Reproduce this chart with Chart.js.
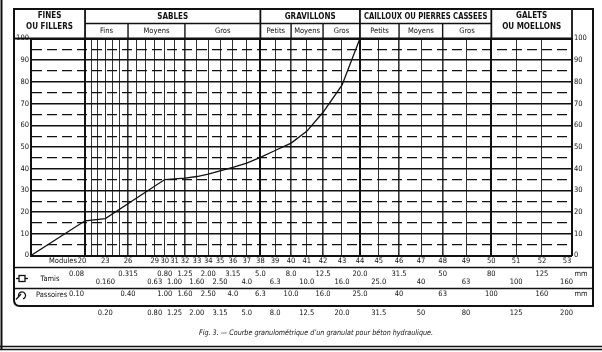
<!DOCTYPE html>
<html><head><meta charset="utf-8">
<script src="https://cdn.jsdelivr.net/npm/chart.js@4.4.0/dist/chart.umd.min.js"></script>
<style>html,body{margin:0;padding:0;background:#fff;overflow:hidden}#wrap{width:602px;height:352px;position:relative;background:#fff}</style>
</head><body><div id="wrap"><canvas id="c" width="602" height="352"></canvas></div>
<script>
// ---------- DATA ----------
const modules   = [20,21,22,23,24,25,26,27,28,29,30,31,32,33,34,35,36,37,38,39,40,41,42,43,44,45,46,47,48,49,50,51,52,53];
const sievesMM  = [0.08,0.1,0.125,0.16,0.2,0.25,0.315,0.4,0.5,0.63,0.8,1,1.25,1.6,2,2.5,3.15,4,5,6.3,8,10,12.5,16,20,25,31.5,40,50,63,80,100,125,160];
const moduleLabels = [20,23,26,29,30,31,32,33,34,35,36,37,38,39,40,41,42,43,44,45,46,47,48,49,50,51,52,53];
const tamisUpper    = ['0.08','0.315','0.80','1.25','2.00','3.15','5.0','8.0','12.5','20.0','31.5','50','80','125'];
const tamisUpperMod = [20,26,30,32,34,36,38,40,42,44,46,48,50,52];
const tamisLower    = ['0.160','0.63','1.00','1.60','2.50','4.0','6.3','10.0','16.0','25.0','40','63','100','160'];
const tamisLowerMod = [23,29,31,33,35,37,39,41,43,45,47,49,51,53];
const passTop       = ['0.10','0.40','1.00','1.60','2.50','4.0','6.3','10.0','16.0','25.0','40','63','100','160'];
const passBottom    = ['0.20','0.80','1.25','2.00','3.15','5.0','8.0','12.5','20.0','31.5','50','80','125','200'];
const groupNames  = [['FINES','OU FILLERS'],['SABLES'],['GRAVILLONS'],['CAILLOUX OU PIERRES CASSEES'],['GALETS','OU MOELLONS']];
const groupLimitsMM = [0.0064,0.08,5,20,80,160];
const subNames    = ['Fins','Moyens','Gros','Petits','Moyens','Gros','Petits','Moyens','Gros'];
const subLimitsMM = [0.08,0.315,1.25,5,8,12.5,20,31.5,50,80];
const curveMM  = [0.0064,0.08,0.16,0.8,1.25,1.6,2,2.5,3.15,4,5,6.3,8,10,12.5,16,20];
const curvePct = [0,16,17,35,35.7,36.4,37.5,39,40.6,42.6,45.2,48.4,51.8,57.2,66,78.5,100];
const yMin = 0, yMax = 100, yStep = 5;
const caption = 'Fig. 3. \u2014 Courbe granulom\u00e9trique d\u2019un granulat pour b\u00e9ton hydraulique.';

// ---------- Faury scale (x proportional to d^(1/5)) ----------
class FauryScale extends Chart.LinearScale {
  configure() {
    super.configure();
    this._t0 = Math.pow(this.min, 0.2);
    this._t1 = Math.pow(this.max, 0.2);
  }
  getPixelForValue(v) {
    if (v === null || v === undefined || isNaN(v)) return NaN;
    return this.getPixelForDecimal((Math.pow(v, 0.2) - this._t0) / (this._t1 - this._t0));
  }
  getValueForPixel(p) {
    const d = this.getDecimalForPixel(p);
    return Math.pow(this._t0 + d * (this._t1 - this._t0), 5);
  }
}
FauryScale.id = 'faury';
FauryScale.defaults = Chart.LinearScale.defaults;
Chart.register(FauryScale);

const FF = "'DejaVu Sans Condensed','Liberation Sans Narrow','Liberation Sans',sans-serif";
const majorB = [0.08,5,20,80,160];
const minorB = [0.315,1.25,8,12.5,31.5,50];
const modMM = m => sievesMM[modules.indexOf(m)];

const tablePlugin = {
  id: 'table',
  beforeDraw(chart) {
    const c = chart.ctx; c.save(); c.fillStyle = '#fff'; c.fillRect(0,0,chart.width,chart.height); c.restore();
  },
  afterDraw(chart) {
    const ctx = chart.ctx, xs = chart.scales.x, ca = chart.chartArea;
    const X = v => xs.getPixelForValue(v);
    const L = 14, R = 593, TOP = 9, SUB = 23.5, HB = ca.top;
    const ROW1 = 267.5, ROW2 = 288.5, BOT = 306;
    ctx.save();
    ctx.strokeStyle = '#111'; ctx.fillStyle = '#111';
    const line = (x1,y1,x2,y2,w) => { ctx.beginPath(); ctx.lineWidth = w; ctx.moveTo(x1,y1); ctx.lineTo(x2,y2); ctx.stroke(); };
    const txt = (s,x,y,o={}) => {
      ctx.font = (o.italic?'italic ':'') + (o.bold?'bold ':'') + (o.size||8) + 'px ' + FF;
      ctx.textAlign = o.align || 'center'; ctx.textBaseline = 'middle';
      if (o.maxW) ctx.fillText(s,x,y,o.maxW); else ctx.fillText(s,x,y);
    };
    // outer scan frame
    line(1.5,0,1.5,350,2);
    line(0,346.5,602,346.5,1.5); line(0,349.5,602,349.5,1.5);
    // table frame
    line(L-1,TOP,R+1,TOP,2);
    ctx.beginPath(); ctx.lineWidth = 2;
    ctx.moveTo(L,TOP); ctx.lineTo(L,BOT-6); ctx.quadraticCurveTo(L,BOT,L+6,BOT); ctx.lineTo(R,BOT); ctx.lineTo(R,TOP); ctx.stroke();
    line(L,HB,ca.right,HB,2);
    // header separators
    for (let i=1;i<groupLimitsMM.length;i++) line(X(groupLimitsMM[i]),TOP,X(groupLimitsMM[i]),HB,1.8);
    line(X(0.08),SUB,X(80),SUB,1.4);
    for (let i=1;i<subLimitsMM.length-1;i++) if (!majorB.includes(subLimitsMM[i])) line(X(subLimitsMM[i]),SUB,X(subLimitsMM[i]),HB,1.4);
    // header texts
    for (let i=0;i<groupNames.length;i++) {
      const x1 = i===0 ? L : X(groupLimitsMM[i]), x2 = X(groupLimitsMM[i+1]);
      const cx = (x1+x2)/2, g = groupNames[i];
      if (g.length===2) { txt(g[0],cx,16,{bold:true,size:8}); txt(g[1],cx,27,{bold:true,size:8}); }
      else txt(g[0],cx,17,{bold:true,size:8,maxW:x2-x1-8});
    }
    for (let i=0;i<subNames.length;i++) txt(subNames[i],(X(subLimitsMM[i])+X(subLimitsMM[i+1]))/2,31,{size:7.5});
    // bottom table rows
    line(L,ROW1,R,ROW1,1.5); line(L,ROW2,R,ROW2,1.5);
    txt('Modules',77,261.5,{size:7.5,align:'right',maxW:29});
    moduleLabels.forEach(m => {
      let x = X(modMM(m)); if (m===20) x -= 3; if (m===53) x -= 5;
      txt(String(m),x,261.5,{size:7.5});
    });
    const row = (labels,mods,y) => labels.forEach((s,i) => {
      const x = X(modMM(mods[i]));
      if (mods[i]===20) txt(s,x-1,y,{size:7.5,align:'right'});
      else if (mods[i]===53) txt(s,x+1,y,{size:7.5,align:'right'});
      else txt(s,x,y,{size:7.5});
    });
    row(tamisUpper,tamisUpperMod,274.5);
    row(tamisLower,tamisLowerMod,282.5);
    row(passTop,tamisUpperMod,294);
    row(passBottom,tamisLowerMod,313);
    txt('mm',581,274.5,{size:7.5}); txt('mm',581,294,{size:7.5});
    txt('Tamis',50,279,{size:7.5});
    txt('Passoires',36,295.5,{size:7.5,align:'left',maxW:32});
    // symbols
    line(16,278.5,28,278.5,1.3);
    ctx.fillStyle='#fff'; ctx.fillRect(19,275.5,6,6); ctx.lineWidth=1.3; ctx.strokeRect(19,275.5,6,6); ctx.fillStyle='#111';
    ctx.beginPath(); ctx.lineWidth=1.3; ctx.arc(22,295.5,3.5,Math.PI*0.9,Math.PI*2.4); ctx.stroke();
    line(16,299.5,21,294,1.3);
    // caption
    txt(caption,316,333,{italic:true,size:7.5,maxW:234});
    ctx.restore();
  }
};

new Chart(document.getElementById('c'), {
  type: 'line',
  data: { datasets: [{
    data: curveMM.map((m,i) => ({x:m, y:curvePct[i]})),
    borderColor: '#111', borderWidth: 1.3, pointRadius: 0, tension: 0, fill: false
  }]},
  options: {
    responsive: false, animation: false, devicePixelRatio: 1,
    layout: { padding: { left: 14, right: 9, top: 38.5, bottom: 96.5 } },
    plugins: { legend: { display: false }, tooltip: { enabled: false }, title: { display: false } },
    scales: {
      x: {
        type: 'faury', min: groupLimitsMM[0], max: 160, bounds: 'data',
        afterBuildTicks: s => { s.ticks = sievesMM.map(v => ({value: v})); },
        afterFit: s => { s.height = 0; },
        ticks: { display: false },
        grid: {
          drawTicks: false,
          color: c => (c.tick && majorB.includes(c.tick.value)) ? '#111' : '#333',
          lineWidth: c => !c.tick ? 1 : majorB.includes(c.tick.value) ? 2 : minorB.includes(c.tick.value) ? 1.6 : 1
        },
        border: { display: false }
      },
      y: {
        position: 'left', min: yMin, max: yMax,
        afterBuildTicks: s => { const t=[]; for (let v=yMin; v<=yMax; v+=yStep) t.push({value:v}); s.ticks = t; },
        afterFit: s => { s.width = 17; },
        ticks: { autoSkip: false, padding: 2, color: '#111', font: { family: FF, size: 7.5 },
                 callback: v => (v % 10 === 0 ? String(v) : '') },
        grid: {
          drawTicks: false, color: '#111',
          lineWidth: c => !c.tick ? 1 : (c.tick.value===0||c.tick.value===100) ? 2 : (c.tick.value%10===0 ? 1.4 : 1.2)
        },
        border: { display: true, width: 2, color: '#111',
                  dash: c => (c.tick && c.tick.value % 10 !== 0) ? [10,5] : [] }
      },
      y2: {
        position: 'right', min: yMin, max: yMax,
        afterBuildTicks: s => { const t=[]; for (let v=yMin; v<=yMax; v+=yStep) t.push({value:v}); s.ticks = t; },
        afterFit: s => { s.width = 21; },
        ticks: { autoSkip: false, padding: 2, color: '#111', font: { family: FF, size: 7.5 },
                 callback: v => (v % 10 === 0 ? String(v) : '') },
        grid: { display: false, drawTicks: false },
        border: { display: true, width: 2, color: '#111' }
      }
    }
  },
  plugins: [tablePlugin]
});
</script></body></html>
